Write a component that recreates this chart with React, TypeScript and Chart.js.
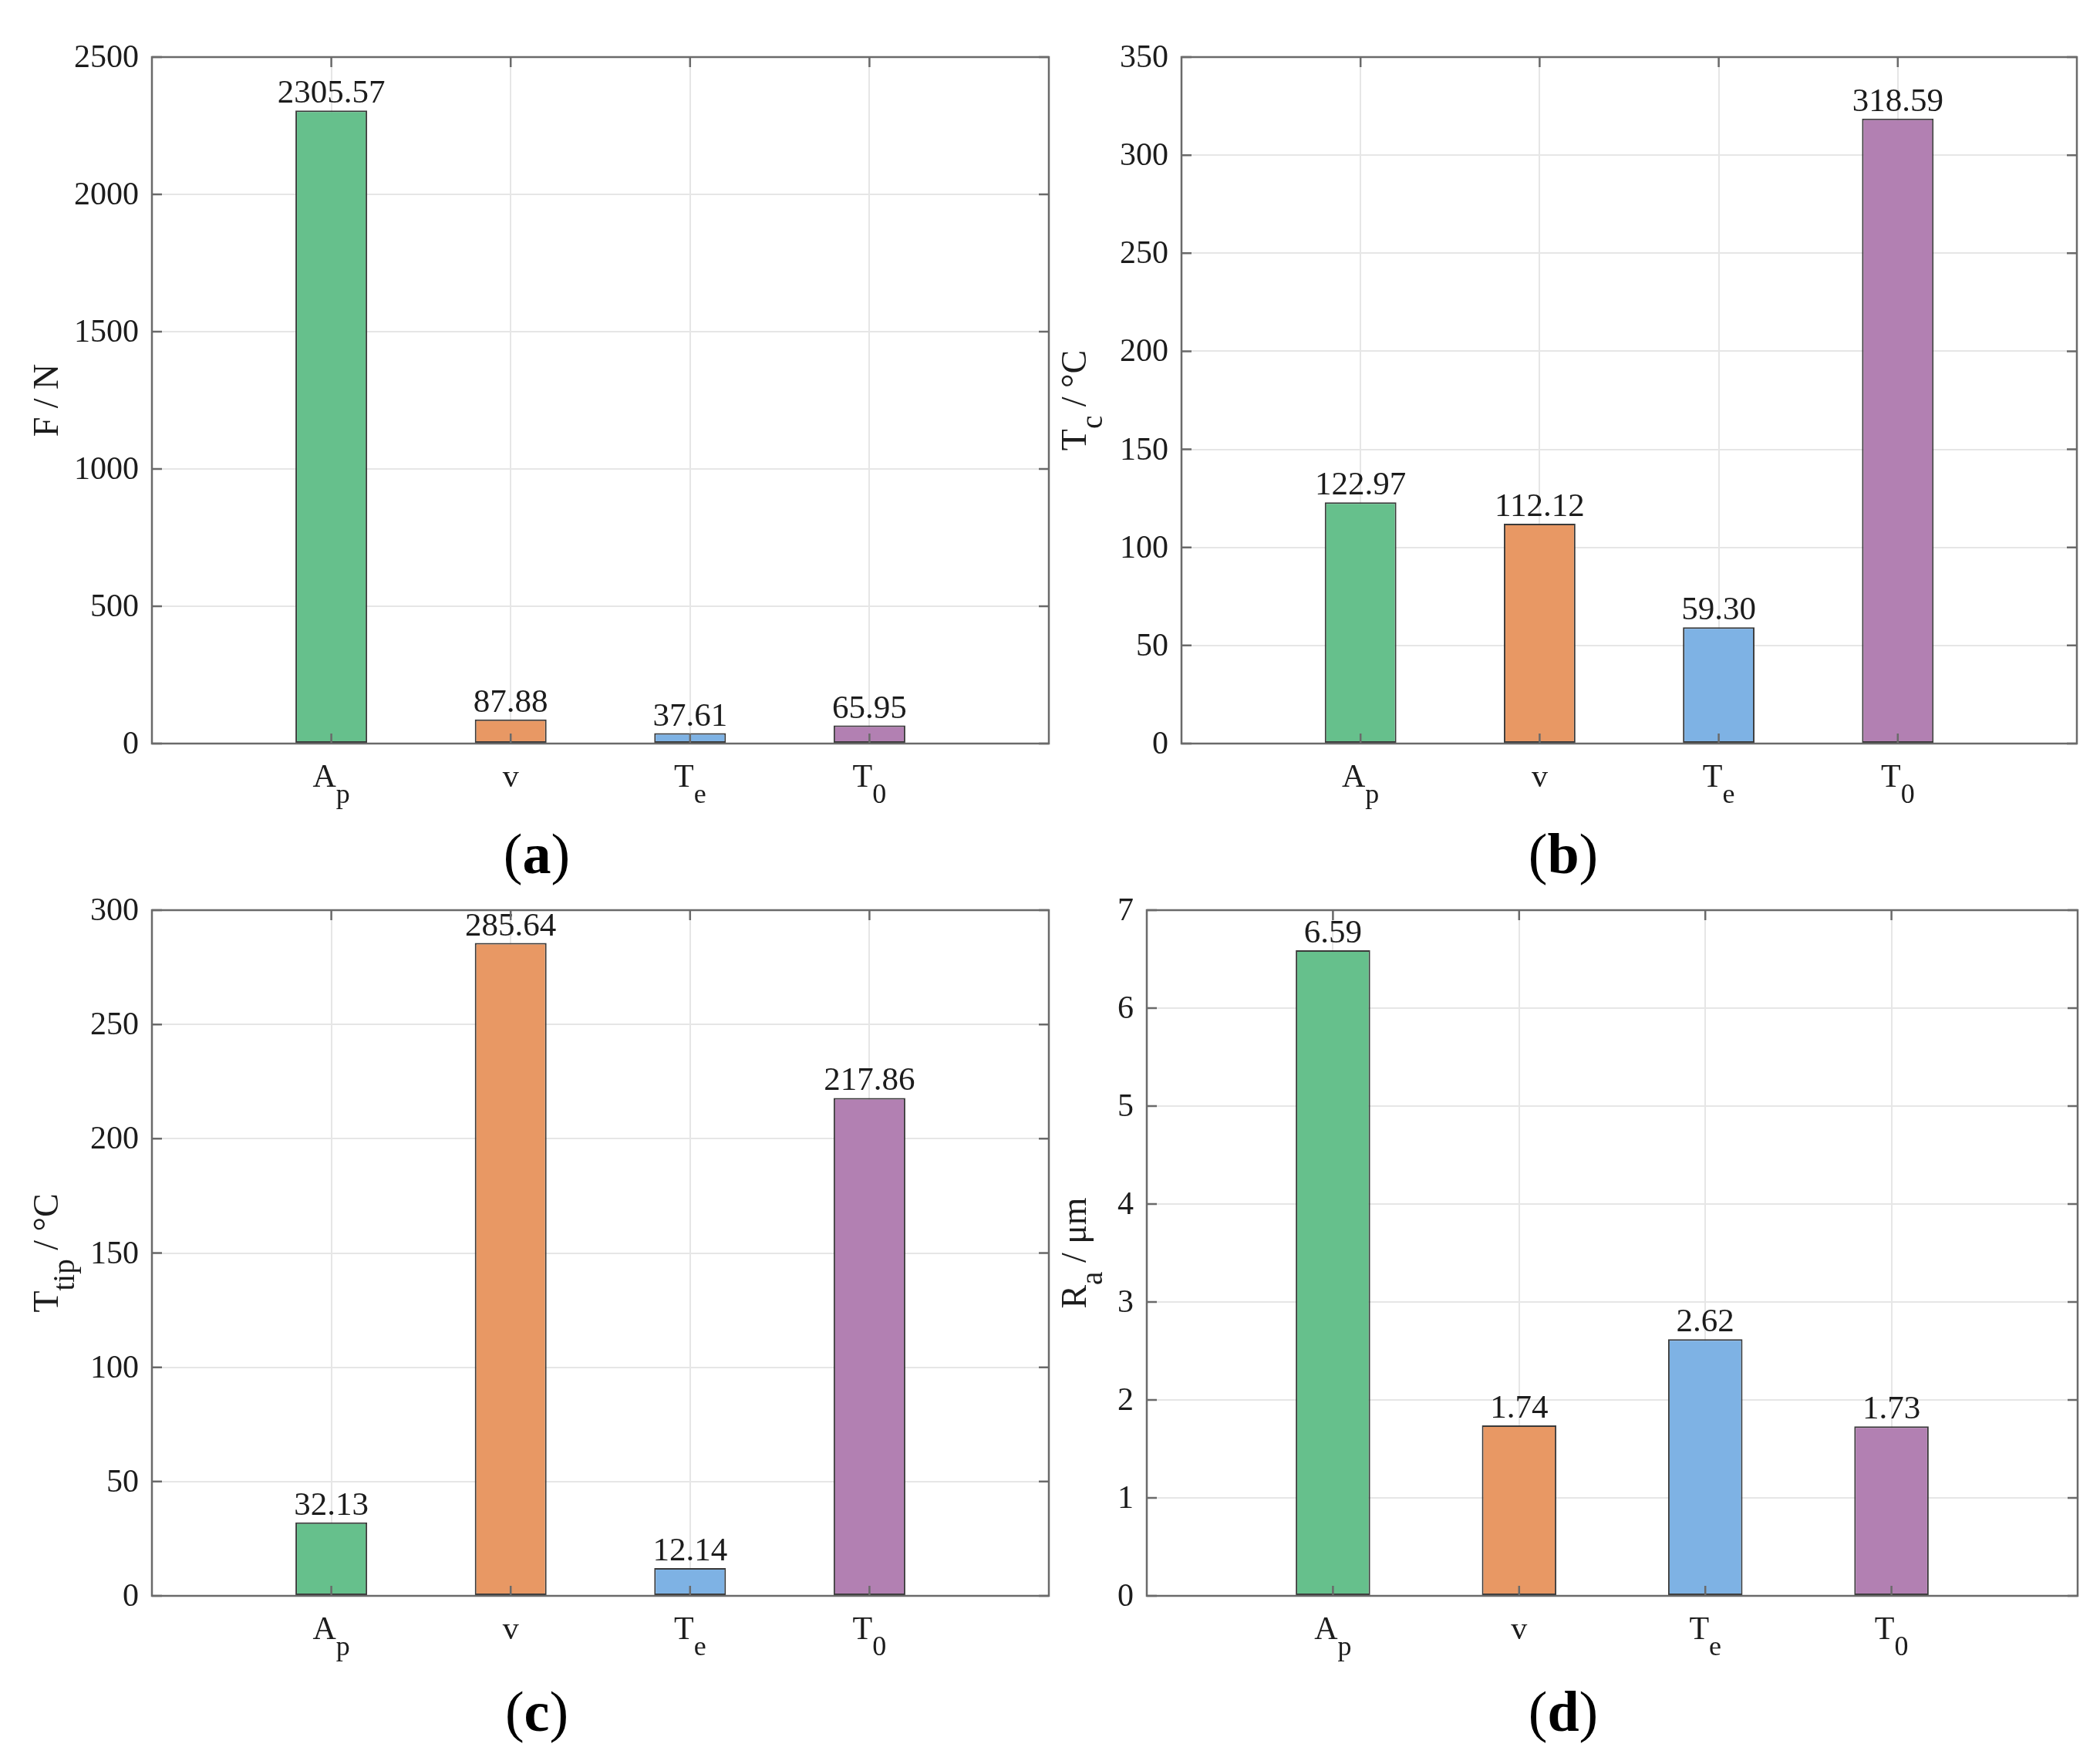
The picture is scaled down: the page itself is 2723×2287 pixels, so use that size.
import React, { useEffect, useRef } from 'react';
import { Chart, registerables } from 'chart.js';

Chart.register(...registerables);

// ---------------- data ----------------
const categoryMain = ['A', 'v', 'T', 'T'];
const categorySub = ['p', '', 'e', '0'];

const forceValues = [2305.57, 87.88, 37.61, 65.95];
const tcValues = [122.97, 112.12, 59.3, 318.59];
const ttipValues = [32.13, 285.64, 12.14, 217.86];
const raValues = [6.59, 1.74, 2.62, 1.73];

const yMaxes = [2500, 350, 300, 7];
const ySteps = [500, 50, 50, 1];

const panelLetters = ['a', 'b', 'c', 'd'];

type Part = [string, boolean];
const titleF: Part[] = [['F / N', false]];
const titleTc: Part[] = [['T', false], ['c', true], [' / °C', false]];
const titleTtip: Part[] = [['T', false], ['tip', true], [' / °C', false]];
const titleRa: Part[] = [['R', false], ['a', true], [' / μm', false]];

// ---------------- style ----------------
const barFills = ['#66C08C', '#E89864', '#7EB2E4', '#B280B2'];
const barEdge = '#3a3a3a';
const gridColor = '#e6e6e6';
const axisColor = '#6a6a6a';
const textColor = '#1c1c1c';
const FONT = '"Liberation Serif", "Times New Roman", Times, serif';

interface PanelLayout {
  cx: number; cy: number; cw: number; ch: number; // canvas rect (page px)
  l: number; t: number; r: number; b: number; // plot area (page px)
  titleX: number; // baseline x of rotated y title (page px)
  letterX: number; letterY: number; // panel letter centre x / baseline (page px)
}

const layouts: PanelLayout[] = [
  { cx: 0, cy: 0, cw: 1370, ch: 1160, l: 197, t: 74, r: 1360, b: 964, titleX: 75, letterX: 696, letterY: 1132 },
  { cx: 1370, cy: 0, cw: 1353, ch: 1160, l: 1532, t: 74, r: 2693, b: 964, titleX: 1408, letterX: 2027, letterY: 1132 },
  { cx: 0, cy: 1160, cw: 1370, ch: 1127, l: 197, t: 1180, r: 1360, b: 2069, titleX: 75, letterX: 696, letterY: 2244 },
  { cx: 1370, cy: 1160, cw: 1353, ch: 1127, l: 1487, t: 1180, r: 2694, b: 2069, titleX: 1408, letterX: 2027, letterY: 2244 },
];

interface PanelSpec {
  values: number[];
  yMax: number;
  yStep: number;
  title: Part[];
  letter: string;
  layout: PanelLayout;
}

const panels: PanelSpec[] = [
  { values: forceValues, yMax: yMaxes[0], yStep: ySteps[0], title: titleF, letter: panelLetters[0], layout: layouts[0] },
  { values: tcValues, yMax: yMaxes[1], yStep: ySteps[1], title: titleTc, letter: panelLetters[1], layout: layouts[1] },
  { values: ttipValues, yMax: yMaxes[2], yStep: ySteps[2], title: titleTtip, letter: panelLetters[2], layout: layouts[2] },
  { values: raValues, yMax: yMaxes[3], yStep: ySteps[3], title: titleRa, letter: panelLetters[3], layout: layouts[3] },
];

const TICK_FONT = 42;
const SUB_FONT = 36;
const TITLE_FONT = 46;
const TITLE_SUB_FONT = 39;
const VALUE_FONT = 43;
const LETTER_FONT = 74;
const TICK_LEN = 13;

function makeDecorPlugin(spec: PanelSpec) {
  return {
    id: 'decor',
    afterDatasetsDraw(chart: any) {
      const ctx: CanvasRenderingContext2D = chart.ctx;
      const L = spec.layout;
      const area = chart.chartArea;
      const xs = chart.scales.x;
      const ys = chart.scales.y;
      ctx.save();

      // value labels above bars
      const meta = chart.getDatasetMeta(0);
      ctx.fillStyle = textColor;
      ctx.font = `${VALUE_FONT}px ${FONT}`;
      ctx.textAlign = 'center';
      ctx.textBaseline = 'alphabetic';
      spec.values.forEach((v, i) => {
        const el = meta.data[i + 1];
        if (!el) return;
        ctx.fillText(v.toFixed(2), el.x, el.y - 10);
      });

      // box
      ctx.strokeStyle = axisColor;
      ctx.lineWidth = 2.5;
      ctx.strokeRect(area.left, area.top, area.right - area.left, area.bottom - area.top);

      // inward ticks
      ctx.beginPath();
      ys.ticks.forEach((tk: any) => {
        const py = ys.getPixelForValue(tk.value);
        ctx.moveTo(area.left, py);
        ctx.lineTo(area.left + TICK_LEN, py);
        ctx.moveTo(area.right, py);
        ctx.lineTo(area.right - TICK_LEN, py);
      });
      for (let i = 1; i <= categoryMain.length; i++) {
        const px = xs.getPixelForValue(i);
        ctx.moveTo(px, area.bottom);
        ctx.lineTo(px, area.bottom - TICK_LEN);
        ctx.moveTo(px, area.top);
        ctx.lineTo(px, area.top + TICK_LEN);
      }
      ctx.stroke();

      // y tick labels
      ctx.fillStyle = textColor;
      ctx.font = `${TICK_FONT}px ${FONT}`;
      ctx.textAlign = 'right';
      ctx.textBaseline = 'middle';
      ys.ticks.forEach((tk: any) => {
        const py = ys.getPixelForValue(tk.value);
        ctx.fillText(String(tk.value), area.left - 17, py + 2);
      });

      // x tick labels with subscripts
      ctx.textAlign = 'left';
      ctx.textBaseline = 'alphabetic';
      categoryMain.forEach((m, i) => {
        const px = xs.getPixelForValue(i + 1);
        const sub = categorySub[i];
        ctx.font = `${TICK_FONT}px ${FONT}`;
        const mw = ctx.measureText(m).width;
        ctx.font = `${SUB_FONT}px ${FONT}`;
        const sw = sub ? ctx.measureText(sub).width : 0;
        const x0 = px - (mw + sw) / 2;
        ctx.font = `${TICK_FONT}px ${FONT}`;
        ctx.fillText(m, x0, area.bottom + 56);
        if (sub) {
          ctx.font = `${SUB_FONT}px ${FONT}`;
          ctx.fillText(sub, x0 + mw, area.bottom + 77);
        }
      });

      // rotated y title
      const parts = spec.title;
      let total = 0;
      const widths = parts.map(([t, s]) => {
        ctx.font = `${s ? TITLE_SUB_FONT : TITLE_FONT}px ${FONT}`;
        const w = ctx.measureText(t).width;
        total += w;
        return w;
      });
      ctx.translate(L.titleX - L.cx, (area.top + area.bottom) / 2);
      ctx.rotate(-Math.PI / 2);
      let tx = -total / 2;
      parts.forEach(([t, s], i) => {
        ctx.font = `${s ? TITLE_SUB_FONT : TITLE_FONT}px ${FONT}`;
        ctx.fillText(t, tx, s ? 21 : 0);
        tx += widths[i];
      });
      ctx.setTransform(1, 0, 0, 1, 0, 0);

      // panel letter: regular parentheses, bold letter
      ctx.fillStyle = '#000000';
      ctx.textAlign = 'left';
      const regFont = `${LETTER_FONT}px ${FONT}`;
      const boldFont = `bold ${LETTER_FONT}px ${FONT}`;
      ctx.font = regFont;
      const pw = ctx.measureText('(').width;
      const qw = ctx.measureText(')').width;
      ctx.font = boldFont;
      const lw = ctx.measureText(spec.letter).width;
      let lx = L.letterX - L.cx - (pw + lw + qw) / 2;
      const ly = L.letterY - L.cy;
      ctx.font = regFont;
      ctx.fillText('(', lx, ly);
      lx += pw;
      ctx.font = boldFont;
      ctx.fillText(spec.letter, lx, ly);
      lx += lw;
      ctx.font = regFont;
      ctx.fillText(')', lx, ly);

      ctx.restore();
    },
  };
}

function Panel({ spec }: { spec: PanelSpec }) {
  const ref = useRef<HTMLCanvasElement | null>(null);
  useEffect(() => {
    if (!ref.current) return;
    const L = spec.layout;
    const labels = ['', ...categoryMain.map((m, i) => m + categorySub[i]), ''];
    const chart = new Chart(ref.current, {
      type: 'bar',
      data: {
        labels,
        datasets: [
          {
            data: [null, ...spec.values, null] as any,
            backgroundColor: ['rgba(0,0,0,0)', ...barFills, 'rgba(0,0,0,0)'],
            borderColor: barEdge,
            borderWidth: 2,
            borderSkipped: false,
            barPercentage: 0.4,
            categoryPercentage: 1,
          },
        ],
      },
      options: {
        animation: false,
        responsive: false,
        devicePixelRatio: 1,
        events: [],
        layout: {
          padding: {
            left: L.l - L.cx,
            top: L.t - L.cy,
            right: L.cx + L.cw - L.r,
            bottom: L.cy + L.ch - L.b,
          },
        },
        plugins: {
          legend: { display: false },
          tooltip: { enabled: false },
        },
        scales: {
          x: {
            type: 'category',
            offset: false,
            grid: { offset: false, color: gridColor, lineWidth: 2, drawTicks: false },
            ticks: { display: false },
            border: { display: false },
          },
          y: {
            min: 0,
            max: spec.yMax,
            ticks: { stepSize: spec.yStep, display: false },
            grid: { color: gridColor, lineWidth: 2, drawTicks: false },
            border: { display: false },
          },
        },
      },
      plugins: [makeDecorPlugin(spec)],
    });
    return () => chart.destroy();
  }, [spec]);
  const L = spec.layout;
  return (
    <canvas
      ref={ref}
      width={L.cw}
      height={L.ch}
      style={{ position: 'absolute', left: L.cx, top: L.cy, width: L.cw, height: L.ch, display: 'block' }}
    />
  );
}

export default function App() {
  return (
    <div style={{ position: 'absolute', left: 0, top: 0, width: 2723, height: 2287, background: '#ffffff', overflow: 'hidden' }}>
      {panels.map((p, i) => (
        <Panel key={i} spec={p} />
      ))}
    </div>
  );
}
